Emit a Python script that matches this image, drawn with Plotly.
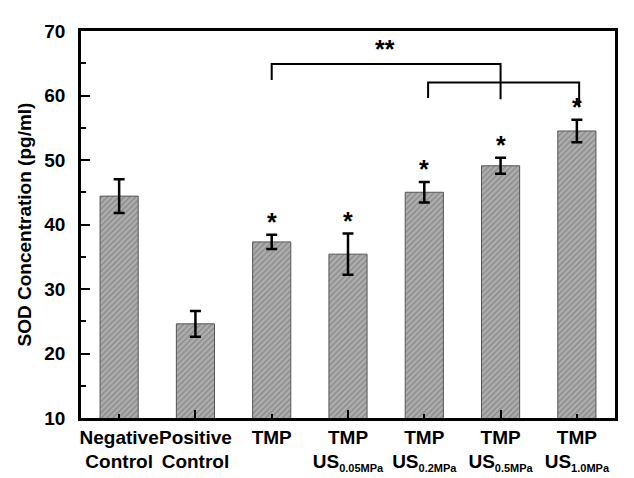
import plotly.graph_objects as go

SUB = '<sub><span style="font-size:11px">{}</span></sub>'
categories = ["Negative<br>Control", "Positive<br>Control", "TMP",
              "TMP<br>US" + SUB.format("0.05MPa"),
              "TMP<br>US" + SUB.format("0.2MPa"),
              "TMP<br>US" + SUB.format("0.5MPa"),
              "TMP<br>US" + SUB.format("1.0MPa")]
sod_values = [44.4, 24.6, 37.3, 35.4, 45.0, 49.1, 54.5]
sod_errors = [2.6, 2.0, 1.1, 3.2, 1.6, 1.25, 1.75]
significant = [False, False, True, True, True, True, True]
y_ticks = [10, 20, 30, 40, 50, 60, 70]

bracket1_x = [2, 2, 5, 5]
bracket1_y = [62.4, 64.9, 64.9, 59.4]
bracket2_x = [4.05, 4.05, 6.03, 6.03]
bracket2_y = [59.6, 62.0, 62.0, 58.3]
double_star_pos = (3.48, 66.7)

FONT = "Liberation Sans, Arial, sans-serif"
xpos = list(range(len(categories)))

fig = go.Figure()
fig.add_trace(go.Bar(
    x=xpos, y=sod_values, width=0.5,
    marker=dict(color="#a9a9a9",
                line=dict(color="#555555", width=1),
                pattern=dict(shape="/", fgcolor="#606060", bgcolor="#adadad",
                             size=4, solidity=0.3)),
    error_y=dict(type="data", array=sod_errors, color="black",
                 thickness=2.5, width=5.5),
    showlegend=False,
))

for bx, by in [(bracket1_x, bracket1_y), (bracket2_x, bracket2_y)]:
    fig.add_trace(go.Scatter(x=bx, y=by, mode="lines",
                             line=dict(color="black", width=2),
                             showlegend=False, hoverinfo="skip"))

# invisible trace for overlay axis with long ticks
fig.add_trace(go.Scatter(x=[0], y=[10], xaxis="x2", mode="markers",
                         marker=dict(opacity=0), showlegend=False,
                         hoverinfo="skip"))

for i, (v, e, s) in enumerate(zip(sod_values, sod_errors, significant)):
    if s:
        fig.add_annotation(x=i, y=v + e, text="*", showarrow=False,
                           yanchor="bottom", yshift=-3,
                           font=dict(family=FONT, size=25, color="black",
                                     weight="bold"))

fig.add_annotation(x=double_star_pos[0], y=double_star_pos[1], text="**",
                   showarrow=False, yanchor="middle", yshift=3,
                   font=dict(family=FONT, size=25, color="black",
                             weight="bold"))

fig.update_layout(
    width=634, height=478,
    margin=dict(l=73, r=27, t=23, b=59),
    plot_bgcolor="white", paper_bgcolor="white",
    font=dict(family=FONT, color="black"),
    xaxis=dict(range=[-0.5, 6.5], tickvals=xpos, ticktext=categories,
               tickangle=0,
               ticks="inside", ticklen=4, tickwidth=2, tickcolor="black",
               showline=True, linecolor="black", linewidth=2.5, mirror=True,
               showgrid=False, zeroline=False,
               tickfont=dict(family=FONT, size=19, color="black",
                             weight="bold")),
    xaxis2=dict(range=[-0.5, 6.5], overlaying="x", anchor="y", side="bottom",
                tickvals=[1, 3, 5], ticks="inside", ticklen=8, tickwidth=2,
                tickcolor="black", showticklabels=False, showline=False,
                showgrid=False, zeroline=False),
    yaxis=dict(range=[10, 70], tickvals=y_ticks,
               ticks="inside", ticklen=9, tickwidth=2, tickcolor="black",
               minor=dict(dtick=5, tick0=5, ticks="inside", ticklen=5,
                          tickwidth=2, tickcolor="black", showgrid=False),
               showline=True, linecolor="black", linewidth=2.5, mirror=True,
               showgrid=False, zeroline=False, ticklabelstandoff=9,
               title=dict(text="SOD Concentration (pg/ml)", standoff=8,
                          font=dict(family=FONT, size=19, color="black",
                                    weight="bold")),
               tickfont=dict(family=FONT, size=19, color="black",
                             weight="bold")),
)

fig.write_html("out.html")
